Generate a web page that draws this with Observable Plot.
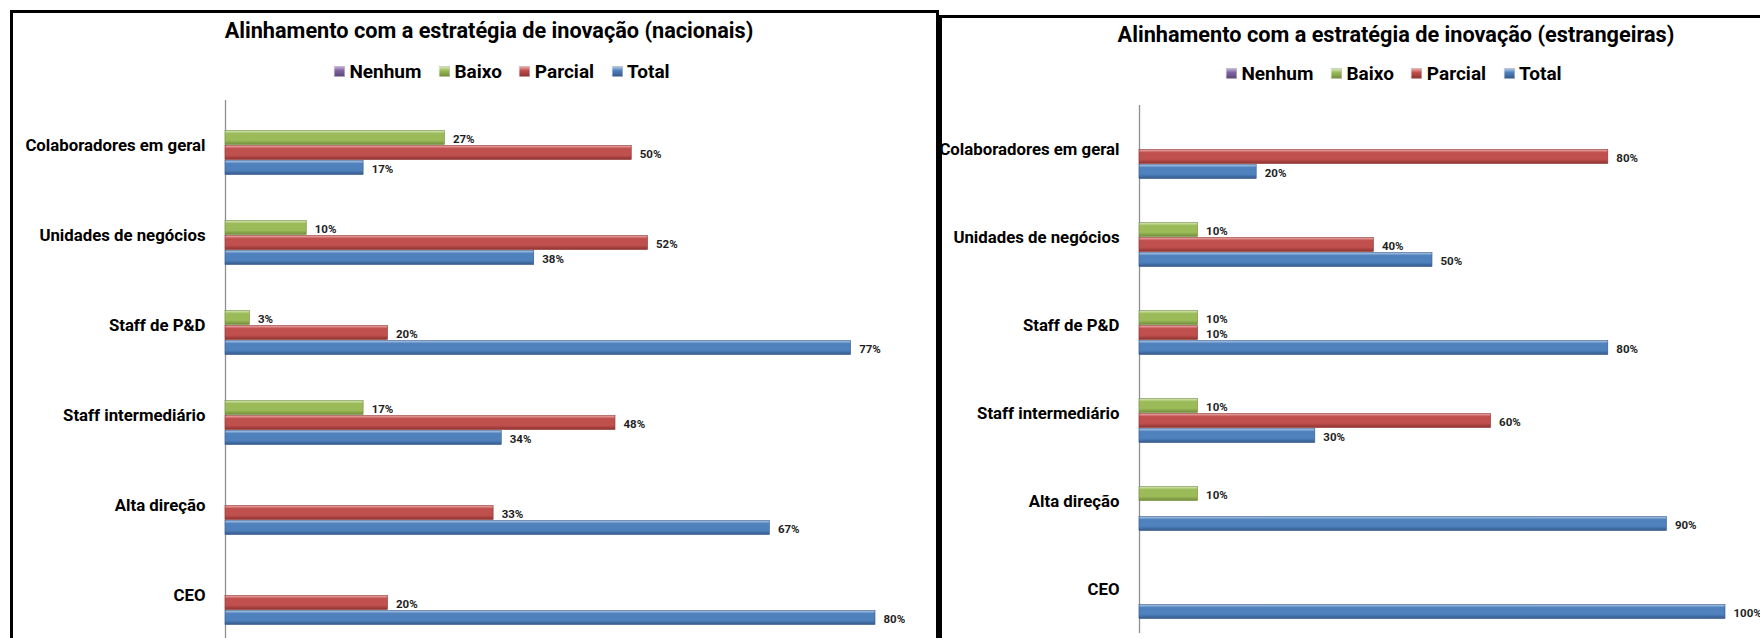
<!DOCTYPE html>
<html lang="pt">
<head>
<meta charset="utf-8">
<script src="https://cdn.jsdelivr.net/npm/d3@7"></script>
<script src="https://cdn.jsdelivr.net/npm/@observablehq/plot@0.6"></script>
<style>
  html, body { margin: 0; padding: 0; }
  body {
    width: 1760px; height: 638px; overflow: hidden; position: relative; background: #fff;
    font-family: "Roboto", "Liberation Sans", sans-serif; color: #000;
  }
  .panel { position: absolute; border: 3px solid #000; box-sizing: border-box; }
  .title {
    position: absolute; transform: translate(-50%, -50%); white-space: nowrap;
    font-weight: bold; font-size: 21.7px; line-height: 1;
  }
  .legend {
    position: absolute; transform: translate(-50%, -50%); display: flex; align-items: center;
    white-space: nowrap; font-weight: bold; font-size: 19px; line-height: 1;
  }
  .legend .item { display: flex; align-items: center; margin-right: 18px; }
  .legend .item:last-child { margin-right: 0; }
  .legend .sw { width: 10px; height: 10px; margin-right: 5px; box-shadow: 0 0 0 0.5px rgba(0,0,0,0.25); }
  .chart { position: absolute; }
  .chart svg { overflow: visible; }
</style>
</head>
<body>
<svg width="0" height="0" style="position:absolute"><defs id="barGradients"></defs></svg>

<div class="panel" style="left:10px; top:10px; width:929px; height:700px;"></div>
<div class="panel" style="left:939px; top:15px; width:900px; height:700px;"></div>

<div class="title" id="titleNac" style="left:489px; top:31px;"></div>
<div class="legend" id="legendNac" style="left:502px; top:71px;"></div>
<div class="chart" id="chartNac" style="left:12px; top:99px;"></div>

<div class="title" id="titleEst" style="left:1396px; top:35px;"></div>
<div class="legend" id="legendEst" style="left:1394px; top:73px;"></div>
<div class="chart" id="chartEst" style="left:942px; top:104px;"></div>

<script>
// Categories (top to bottom) and alignment levels
const categories = [
  "Colaboradores em geral",
  "Unidades de negócios",
  "Staff de P&D",
  "Staff intermediário",
  "Alta direção",
  "CEO"
];
const series = ["Nenhum", "Baixo", "Parcial", "Total"];

// Empresas nacionais (shares per category)
const nacNenhum  = [0, 0, 0, 0, 0, 0];
const nacBaixo   = [0.27, 0.10, 0.03, 0.17, 0, 0];
const nacParcial = [0.50, 0.52, 0.20, 0.48, 0.33, 0.20];
const nacTotal   = [0.17, 0.38, 0.77, 0.34, 0.67, 0.80];

// Empresas estrangeiras (shares per category)
const estNenhum  = [0, 0, 0, 0, 0, 0];
const estBaixo   = [0, 0.10, 0.10, 0.10, 0.10, 0];
const estParcial = [0.80, 0.40, 0.10, 0.60, 0, 0];
const estTotal   = [0.20, 0.50, 0.80, 0.30, 0.90, 1.00];

const titleNac = "Alinhamento com a estratégia de inovação (nacionais)";
const titleEst = "Alinhamento com a estratégia de inovação (estrangeiras)";

// Bar shading: [highlight, base, shadow]
const palette = {
  Nenhum:  ["#c3b3d9", "#8064A2", "#5c4677"],
  Baixo:   ["#dbe9bd", "#9BBB59", "#718c3a"],
  Parcial: ["#eeb0ae", "#C0504D", "#8e3230"],
  Total:   ["#b3cbe8", "#4F81BD", "#34598a"]
};

const fmt = d3.format(".0%");
const labelFont = getComputedStyle(document.body).fontFamily;

// Gradient definitions shared by both charts
const defs = d3.select("#barGradients");
series.forEach(s => {
  const [hi, base, lo] = palette[s];
  const g = defs.append("linearGradient").attr("id", `grad-${s}`)
    .attr("x1", 0).attr("y1", 0).attr("x2", 0).attr("y2", 1);
  g.append("stop").attr("offset", "0%").attr("stop-color", hi);
  g.append("stop").attr("offset", "22%").attr("stop-color", base);
  g.append("stop").attr("offset", "70%").attr("stop-color", base);
  g.append("stop").attr("offset", "100%").attr("stop-color", lo);
});

function buildLegend(el) {
  series.forEach(s => {
    const [hi, base, lo] = palette[s];
    const item = document.createElement("span");
    item.className = "item";
    const sw = document.createElement("span");
    sw.className = "sw";
    sw.style.background = `linear-gradient(to bottom, ${hi} 0%, ${base} 40%, ${lo} 100%)`;
    const tx = document.createElement("span");
    tx.textContent = s;
    item.append(sw, tx);
    el.append(item);
  });
}

function buildChart(values, opts) {
  const rows = [];
  categories.forEach((c, i) => {
    series.forEach(s => rows.push({category: c, series: s, value: values[s][i]}));
  });
  const shown = rows.filter(d => d.value > 0);

  return Plot.plot({
    width: opts.width,
    height: opts.height,
    marginLeft: opts.x0,
    marginRight: opts.width - opts.x1,
    marginTop: 0,
    marginBottom: 0,
    x: {domain: [0, opts.xMax], range: [opts.x0, opts.x1], axis: null},
    y: {domain: series, paddingInner: 0, paddingOuter: opts.groupPad, axis: null},
    fy: {domain: categories, padding: 0, label: null, tickSize: 0, tickPadding: 20},
    style: {
      fontFamily: labelFont, fontSize: "16.8px", fontWeight: "bold",
      color: "#000", background: "transparent", overflow: "visible"
    },
    marks: [
      Plot.ruleX([0], {stroke: "#8f8f8f", strokeWidth: 1.3}),
      ...series.map(s => Plot.barX(shown.filter(d => d.series === s), {
        fy: "category", y: "series", x: "value",
        fill: `url(#grad-${s})`, stroke: palette[s][2], strokeWidth: 0.6,
        insetTop: 0.5, insetBottom: 0.5
      })),
      Plot.text(shown, {
        fy: "category", y: "series", x: "value",
        text: d => fmt(d.value), textAnchor: "start", dx: 8, dy: 1,
        fontSize: 11.5, fontWeight: "bold", fill: "#1e1e1e"
      })
    ]
  });
}

document.getElementById("titleNac").textContent = titleNac;
document.getElementById("titleEst").textContent = titleEst;
buildLegend(document.getElementById("legendNac"));
buildLegend(document.getElementById("legendEst"));

document.getElementById("chartNac").append(buildChart(
  {Nenhum: nacNenhum, Baixo: nacBaixo, Parcial: nacParcial, Total: nacTotal},
  {width: 924, height: 542, x0: 213, x1: 863, xMax: 0.8, groupPad: 0.82}
));
document.getElementById("chartEst").append(buildChart(
  {Nenhum: estNenhum, Baixo: estBaixo, Parcial: estParcial, Total: estTotal},
  {width: 818, height: 529, x0: 197, x1: 783, xMax: 1.0, groupPad: 0.755}
));
</script>
</body>
</html>
